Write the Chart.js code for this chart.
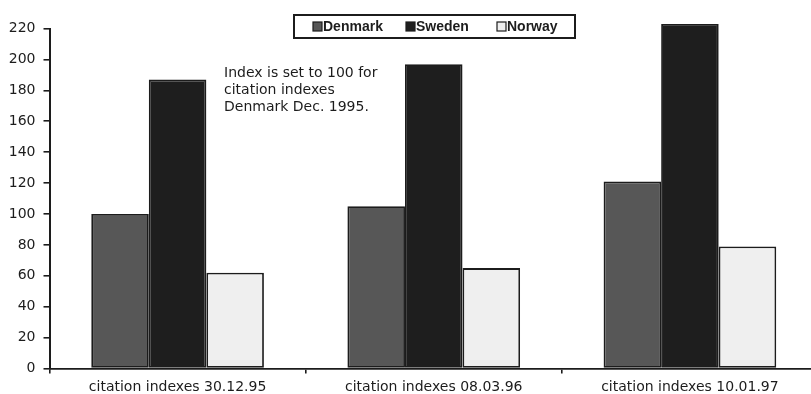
<!DOCTYPE html>
<html>
<head>
<meta charset="utf-8">
<script src="https://cdn.jsdelivr.net/npm/chart.js@4.4.0/dist/chart.umd.min.js"></script>
<style>
  html, body { margin: 0; padding: 0; background: #fff; overflow: hidden; width: 811px; height: 394px; }
  #wrap { position: absolute; left: 0; top: 0; width: 818px; height: 394px; }
</style>
</head>
<body>
<div id="wrap"><canvas id="c" width="818" height="394"></canvas></div>
<script>
// Citation index values per date (Denmark Dec. 1995 = 100)
const categories = ['citation indexes 30.12.95', 'citation indexes 08.03.96', 'citation indexes 10.01.97'];
const seriesNames = ['Denmark', 'Sweden', 'Norway'];
const denmark = [100, 105, 121];
const sweden  = [187, 197, 223];
const norway  = [62, 65, 79];
const yTicks  = [0, 20, 40, 60, 80, 100, 120, 140, 160, 180, 200, 220];
const noteLines = ['Index is set to 100 for', 'citation indexes', 'Denmark Dec. 1995.'];

const FONT = '"DejaVu Sans", Verdana, sans-serif';
const LEGEND_FONT = '"Liberation Sans", Arial, Helvetica, sans-serif';
const INK = '#1c1c1c';

// Boxed legend at the top and the free-standing note
const decorations = {
  id: 'decorations',
  afterDraw(chart) {
    const ctx = chart.ctx;
    ctx.save();
    // legend box
    const bx = 294, by = 15, bw = 281, bh = 23;
    ctx.lineWidth = 2;
    ctx.strokeStyle = INK;
    ctx.fillStyle = '#fff';
    ctx.fillRect(bx, by, bw, bh);
    ctx.strokeRect(bx, by, bw, bh);
    ctx.font = 'bold 14px ' + LEGEND_FONT;
    ctx.textBaseline = 'middle';
    const starts = [313, 406, 497];
    chart.data.datasets.forEach((ds, i) => {
      const x = starts[i];
      const cy = by + bh / 2;
      ctx.fillStyle = ds.backgroundColor;
      ctx.fillRect(x, cy - 4.5, 9, 9);
      ctx.lineWidth = 1.2;
      ctx.strokeStyle = INK;
      ctx.strokeRect(x, cy - 4.5, 9, 9);
      ctx.fillStyle = INK;
      ctx.textAlign = 'left';
      ctx.fillText(ds.label, x + 10, cy + 1);
    });
    // note text
    ctx.font = '14px ' + FONT;
    ctx.fillStyle = INK;
    ctx.textBaseline = 'alphabetic';
    noteLines.forEach((t, i) => ctx.fillText(t, 224, 77 + i * 17));
    ctx.restore();
  }
};

const barStyle = { borderColor: INK, borderWidth: 1.8, borderSkipped: false, clip: false };

new Chart(document.getElementById('c'), {
  type: 'bar',
  data: {
    labels: categories,
    datasets: [
      Object.assign({ label: seriesNames[0], data: denmark, backgroundColor: '#575757' }, barStyle),
      Object.assign({ label: seriesNames[1], data: sweden,  backgroundColor: '#1e1e1e' }, barStyle),
      Object.assign({ label: seriesNames[2], data: norway,  backgroundColor: '#efefef' }, barStyle)
    ]
  },
  options: {
    responsive: false,
    animation: false,
    devicePixelRatio: 1,
    layout: { padding: { top: 28.6, right: 0, bottom: 0, left: 0 } },
    plugins: { legend: { display: false }, tooltip: { enabled: false } },
    datasets: { bar: { categoryPercentage: 0.674, barPercentage: 1.0 } },
    scales: {
      x: {
        grid: { display: true, offset: true, drawOnChartArea: false, drawTicks: true, tickLength: 5, color: INK, lineWidth: 1.6 },
        border: { display: true, color: INK, width: 1.8 },
        ticks: { color: INK, font: { family: FONT, size: 14 }, padding: 5, maxRotation: 0 },
        afterFit(scale) { scale.height = 25.5; }
      },
      y: {
        min: 0, max: 220,
        afterBuildTicks(scale) { scale.ticks = yTicks.map(v => ({ value: v })); },
        grid: { display: true, drawOnChartArea: false, drawTicks: true, tickLength: 6, color: INK, lineWidth: 1.6 },
        border: { display: true, color: INK, width: 2 },
        ticks: { color: INK, font: { family: FONT, size: 14 }, padding: 8 },
        afterFit(scale) { scale.width = 49.5; }
      }
    }
  },
  plugins: [decorations]
});
</script>
</body>
</html>
